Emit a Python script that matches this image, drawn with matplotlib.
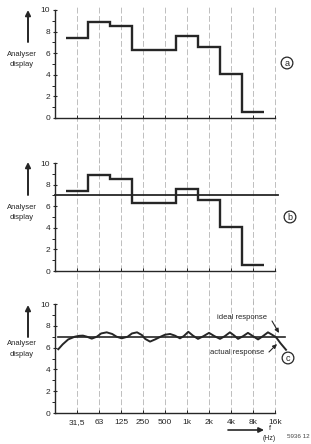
import matplotlib
matplotlib.use('Agg')
import matplotlib.pyplot as plt
import numpy as np

plt.rcParams['font.family'] = ['Liberation Sans', 'DejaVu Sans']

# octave band centre frequencies (position 1..10 on an octave axis)
freq_labels = ['31,5', '63', '125', '250', '500', '1k', '2k', '4k', '8k', '16k']

# analyser display per octave band (31.5 Hz .. 8 kHz)
band_levels = [7.45, 8.85, 8.5, 6.25, 6.25, 7.55, 6.6, 4.1, 0.6]
band_edges = [0.5, 1.5, 2.5, 3.5, 4.5, 5.5, 6.5, 7.5, 8.5, 9.5]

ideal_level = 7.0

# actual response (octave position, display value)
actual_x = [0.15, 0.35, 0.6, 0.9, 1.1, 1.27, 1.45, 1.67, 1.9, 2.1, 2.35, 2.6,
            2.8, 3.03, 3.3, 3.5, 3.73, 3.95, 4.1, 4.32, 4.55, 4.8, 5.0, 5.23,
            5.45, 5.68, 5.85, 6.06, 6.27, 6.5, 6.75, 7.0, 7.25, 7.5, 7.72,
            7.95, 8.15, 8.32, 8.55, 8.77, 9.0, 9.23, 9.45, 9.68, 9.85, 10.05,
            10.25, 10.5]
actual_y = [5.85, 6.3, 6.75, 7.0, 7.08, 7.1, 7.0, 6.82, 7.0, 7.3, 7.4, 7.25,
            7.0, 6.85, 7.0, 7.3, 7.4, 7.15, 6.8, 6.55, 6.75, 7.0, 7.18, 7.25,
            7.1, 6.85, 7.05, 7.45, 7.1, 6.8, 7.05, 7.35, 7.05, 6.8, 7.05,
            7.4, 7.1, 6.8, 7.05, 7.35, 7.05, 6.75, 7.05, 7.4, 7.2, 6.95,
            6.4, 5.8]

ink = '#262626'
W, H = 311, 444

fig = plt.figure(figsize=(W / 100, H / 100), dpi=100)
fig.patch.set_facecolor('white')

def px(x0, y_top, y_bot, x1=275):
    return [x0 / W, 1 - y_bot / H, (x1 - x0) / W, (y_bot - y_top) / H]

def fig_arrow(p0, p1, lw=1.2, head=(3, 1.5)):
    fig.add_artist(matplotlib.patches.FancyArrowPatch(
        (p0[0] / W, 1 - p0[1] / H), (p1[0] / W, 1 - p1[1] / H),
        transform=fig.transFigure,
        arrowstyle='-|>,head_length=%g,head_width=%g' % head,
        color=ink, lw=lw, shrinkA=0, shrinkB=0))

ax_a = fig.add_axes(px(55, 10, 118))
ax_b = fig.add_axes(px(55, 163, 271))
ax_c = fig.add_axes(px(55, 304, 413))
axes = [ax_a, ax_b, ax_c]
grid_lo = [-0.42, -0.31, 0.0]

for ax, lo in zip(axes, grid_lo):
    ax.set_xlim(0, 10)
    ax.set_ylim(0, 10)
    ax.patch.set_alpha(0)
    for s in ['top', 'right']:
        ax.spines[s].set_visible(False)
    for s in ['left', 'bottom']:
        ax.spines[s].set_color(ink)
        ax.spines[s].set_linewidth(1.0)
    ax.set_yticks([0, 2, 4, 6, 8, 10])
    ax.set_yticks([1, 3, 5, 7, 9], minor=True)
    ax.tick_params(axis='y', which='major', length=3, width=0.8, colors=ink,
                   labelsize=6, pad=2, direction='inout')
    ax.tick_params(axis='y', which='minor', length=2, width=0.7, colors=ink,
                   direction='out')
    ax.set_xticks(np.arange(1, 11))
    ax.tick_params(axis='x', length=2, width=0.7, colors=ink, direction='in',
                   labelsize=6, pad=4)
    ax.set_xticklabels([])
    # octave grid lines running through the figure
    for i in range(1, 11):
        ax.axvline(i, ymin=lo, ymax=1.03, color='#b4b4b4', lw=0.6,
                   ls=(0, (7, 3)), clip_on=False, zorder=0)

ax_c.set_xticklabels(freq_labels)

# panel a and b: octave band levels
for ax in [ax_a, ax_b]:
    ax.stairs(band_levels, band_edges, baseline=None, color=ink, lw=1.7)

ax_b.plot([0, 10.15], [ideal_level, ideal_level], color=ink, lw=1.3,
          clip_on=False)

# panel c: ideal and actual response
ax_c.plot([0.15, 10.45], [ideal_level, ideal_level], color=ink, lw=1.2,
          clip_on=False)
ax_c.plot(actual_x, actual_y, color=ink, lw=1.4, clip_on=False,
          solid_joinstyle='round')

ax_c.text(242, H - 317, 'ideal response', transform=None, fontsize=5.5,
          ha='center', va='center', color=ink)
ax_c.text(237, H - 352, 'actual response', transform=None, fontsize=5.5,
          ha='center', va='center', color=ink)
fig_arrow((272, 321), (279, 333), lw=0.8, head=(2.5, 1.2))
fig_arrow((269, 352), (277, 344), lw=0.8, head=(2.5, 1.2))

# y labels with upward arrows
for (ax_top, ax_bot, t1, t2) in [(10, 42, 55, 65), (162, 195, 207, 217),
                                 (305, 337, 343, 354)]:
    fig_arrow((28, ax_bot), (28, ax_top), lw=1.4)
    fig.text(22 / W, 1 - t1 / H, 'Analyser', fontsize=5.5, ha='center',
             va='center', color=ink)
    fig.text(22 / W, 1 - t2 / H, 'display', fontsize=5.5, ha='center',
             va='center', color=ink)

# circled panel letters
for letter, (cx, cy) in zip('abc', [(287, 63), (290, 217), (288, 358)]):
    fig.text(cx / W, 1 - cy / H, letter, fontsize=6.5, ha='center',
             va='center', color=ink,
             bbox=dict(boxstyle='circle,pad=0.15', fc='white', ec=ink, lw=0.9))

# frequency axis arrow
fig_arrow((228, 430), (264, 430), lw=1.2)
fig.text(270 / W, 1 - 428 / H, 'f', fontsize=5.5, ha='center', va='center',
         color=ink)
fig.text(269 / W, 1 - 438 / H, '(Hz)', fontsize=5, ha='center', va='center',
         color=ink)
fig.text(310 / W, 1 - 436 / H, '5936 12', fontsize=4.5, ha='right',
         va='center', color='#444444')

plt.savefig('out.png', dpi=100, facecolor='white')
